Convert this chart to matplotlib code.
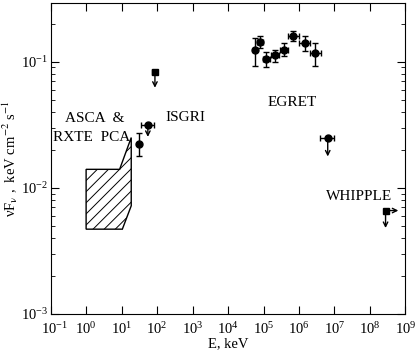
import numpy as np
import matplotlib
matplotlib.use("Agg")
import matplotlib.pyplot as plt
import matplotlib.transforms as mtransforms
from matplotlib.patches import Polygon

plt.rcParams['font.family'] = ['Liberation Serif', 'DejaVu Serif']
plt.rcParams['mathtext.fontset'] = 'stix'
plt.rcParams['font.size'] = 10.5
plt.rcParams['hatch.linewidth'] = 0.7

# ASCA & RXTE PCA region (E keV, nuFnu)
box_E = [1.0, 1.0, 8.8, 18.7, 18.7, 10.5]
box_F = [0.0047, 0.014, 0.014, 0.025, 0.0072, 0.0047]

# ISGRI detection
isgri_E = [30.0]
isgri_F = [0.0224]
isgri_Flo = [0.0177]
isgri_Fhi = [0.027]

# upper limits: E, E_lo, E_hi, F, F_arrow_end
ul_E = [55.0, 87.0, 6.45e6]
ul_Elo = [36.0, 74.0, 3.8e6]
ul_Ehi = [82.0, 100.0, 9.5e6]
ul_F = [0.0316, 0.083, 0.0248]
ul_Fend = [0.0253, 0.062, 0.0177]
ul_marker = ['o', 's', 'o']

# EGRET
egret_E = [5.6e4, 8.1e4, 1.19e5, 2.14e5, 3.7e5, 6.7e5, 1.43e6, 2.86e6]
egret_Elo = [4.9e4, 6.5e4, 9.55e4, 1.65e5, 2.82e5, 4.84e5, 1.03e6, 1.98e6]
egret_Ehi = [6.3e4, 9.55e4, 1.48e5, 2.7e5, 4.84e5, 9.86e5, 1.98e6, 4.04e6]
egret_F = [0.124, 0.143, 0.105, 0.112, 0.124, 0.159, 0.141, 0.116]
egret_Flo = [0.093, 0.128, 0.090, 0.099, 0.110, 0.145, 0.121, 0.093]
egret_Fhi = [0.154, 0.159, 0.119, 0.123, 0.139, 0.174, 0.159, 0.139]

# WHIPPLE limit
whip_E = 2.75e8
whip_F = 0.0066
whip_Eend = 6.3e8
whip_Fend = 0.0048

fig = plt.figure(figsize=(4.15, 3.54), dpi=100)
ax = fig.add_axes([0.122, 0.113, 0.855, 0.878])
ax.set_xscale('log')
ax.set_yscale('log')
ax.set_xlim(1e-1, 1e9)
ax.set_ylim(1e-3, 0.29)

poly = Polygon(np.column_stack([box_E, box_F]), closed=True, facecolor='white',
               edgecolor='black', hatch='///', lw=1.0)
ax.add_patch(poly)

ekw = dict(fmt='o', color='black', ms=5, ecolor='black', elinewidth=1.0, capsize=2)

ax.errorbar(isgri_E, isgri_F,
            yerr=[np.array(isgri_F) - np.array(isgri_Flo), np.array(isgri_Fhi) - np.array(isgri_F)],
            **ekw)

e = np.array(egret_E)
f = np.array(egret_F)
ax.errorbar(e, f,
            xerr=[e - np.array(egret_Elo), np.array(egret_Ehi) - e],
            yerr=[f - np.array(egret_Flo), np.array(egret_Fhi) - f],
            **ekw)

for E, Elo, Ehi, F, Fend, m in zip(ul_E, ul_Elo, ul_Ehi, ul_F, ul_Fend, ul_marker):
    ax.errorbar([E], [F], xerr=[[E - Elo], [Ehi - E]], fmt=m, color='black', ms=5,
                elinewidth=1.0, capsize=2)
    ax.annotate('', xy=(E, Fend), xytext=(E, F),
                arrowprops=dict(arrowstyle='->', lw=1.0, color='black',
                                shrinkA=0, shrinkB=0, mutation_scale=8))

ax.plot([whip_E], [whip_F], 's', color='black', ms=4.5)
ax.annotate('', xy=(whip_Eend, whip_F), xytext=(whip_E, whip_F),
            arrowprops=dict(arrowstyle='->', lw=1.0, color='black',
                            shrinkA=0, shrinkB=0, mutation_scale=8))
ax.annotate('', xy=(whip_E, whip_Fend), xytext=(whip_E, whip_F),
            arrowprops=dict(arrowstyle='->', lw=1.0, color='black',
                            shrinkA=0, shrinkB=0, mutation_scale=8))

ax.text(1.74, 0.0353, 'ASCA  &', ha='center', va='center', fontsize=11)
ax.text(1.43, 0.0252, 'RXTE  PCA', ha='center', va='center', fontsize=11)
ax.text(170, 0.036, 'ISGRI', ha='left', va='center', fontsize=11)
ax.text(6.6e5, 0.0473, 'EGRET', ha='center', va='center', fontsize=11)
ax.text(4.8e7, 0.0085, 'WHIPPLE', ha='center', va='center', fontsize=11)

ax.set_xticks([10.0 ** k for k in range(-1, 10)])
ax.tick_params(which='both', direction='in', top=True, right=True)
ax.tick_params(which='major', length=6, labelsize=10.5)
ax.tick_params(axis='y', which='major', pad=2)
ax.tick_params(axis='x', which='major', pad=5)
ax.tick_params(which='minor', length=3)

# nudge the first x tick label away from the 10^-3 label
shift = mtransforms.ScaledTranslation(4 / 100, 0, fig.dpi_scale_trans)
first = ax.get_xticklabels()[0]
first.set_transform(first.get_transform() + shift)

ax.set_xlabel('E, keV', labelpad=0)
ax.set_ylabel(r'νF$_{\mathrm{ν}}$ ,  keV cm$^{-2}$ s$^{-1}$', fontsize=10.5)
ax.yaxis.set_label_coords(-0.085, 0.5)

fig.savefig('out.png', dpi=100)
